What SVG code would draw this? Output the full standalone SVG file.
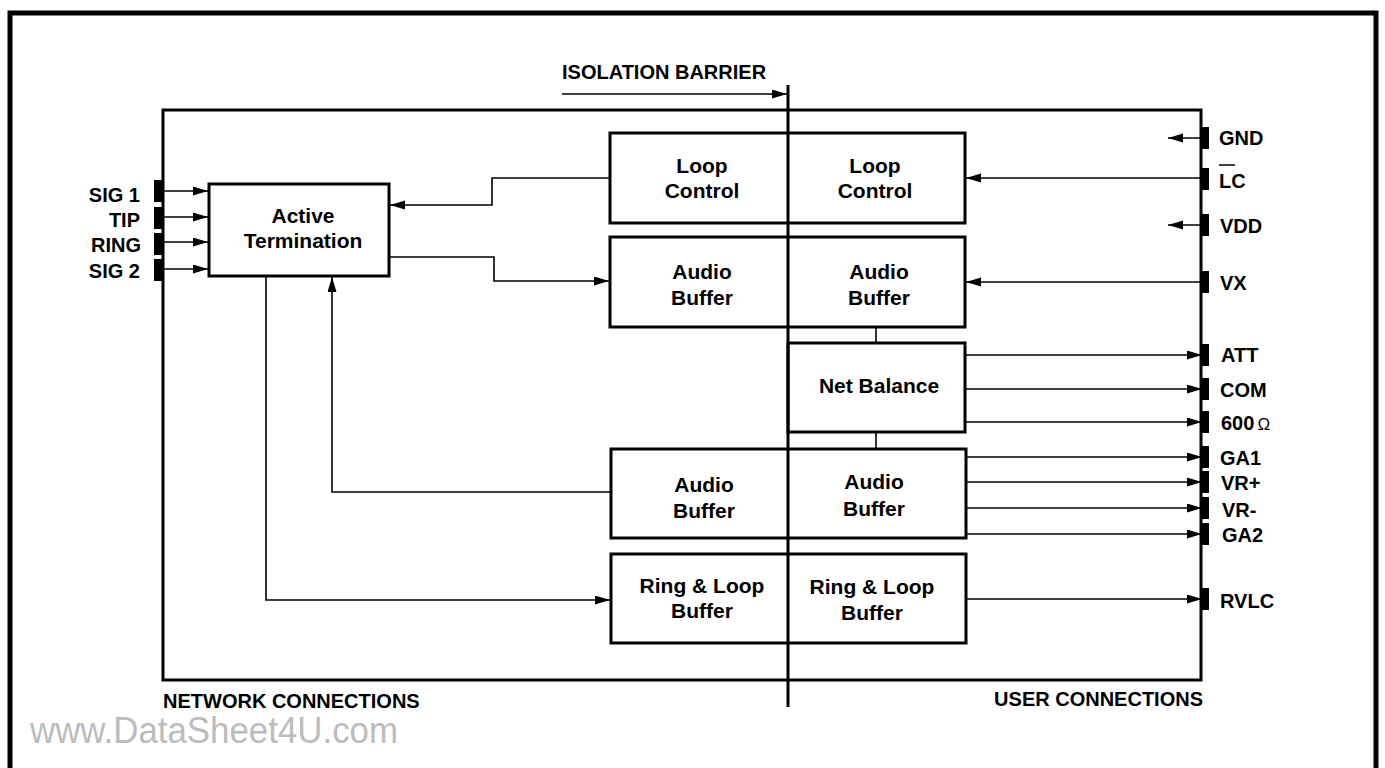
<svg xmlns="http://www.w3.org/2000/svg" width="1385" height="768" viewBox="0 0 1385 768">
<style>
.box{fill:#fff;stroke:#000;stroke-width:3}
.t{font-family:"Liberation Sans",Arial,sans-serif;font-weight:bold;font-size:21px;fill:#000;text-anchor:middle}
.lbl{font-family:"Liberation Sans",Arial,sans-serif;font-weight:bold;font-size:20px;fill:#000}
.r{text-anchor:end}
.pin{fill:#000}
.c{fill:none;stroke:#000;stroke-width:1.6}
</style>
<defs>
<marker id="ah" markerUnits="userSpaceOnUse" markerWidth="16" markerHeight="10" refX="15" refY="4.5" orient="auto">
<path d="M0,0 L15,4.5 L0,9 z" fill="#000"/>
</marker>
</defs>
<rect width="1385" height="768" fill="#fff"/>
<path d="M10,768 V13 H1376 V768" fill="none" stroke="#000" stroke-width="5"/>
<rect x="163" y="110" width="1038" height="570" fill="none" stroke="#000" stroke-width="3"/>

<g id="nodes">
<g id="active-termination">
<rect class="box" x="209" y="184" width="180" height="92"/>
<text class="t" x="303" y="223">Active</text>
<text class="t" x="303" y="248">Termination</text>
</g>
<g id="loop-control">
<rect class="box" x="610" y="133" width="355" height="90"/>
<text class="t" x="702" y="173">Loop</text>
<text class="t" x="702" y="198">Control</text>
<text class="t" x="875" y="173">Loop</text>
<text class="t" x="875" y="198">Control</text>
</g>
<g id="audio-buffer-tx">
<rect class="box" x="610" y="237" width="355" height="90"/>
<text class="t" x="702" y="279">Audio</text>
<text class="t" x="702" y="305">Buffer</text>
<text class="t" x="879" y="279">Audio</text>
<text class="t" x="879" y="305">Buffer</text>
</g>
<g id="net-balance">
<rect class="box" x="788" y="343" width="177" height="89"/>
<text class="t" x="879" y="393">Net Balance</text>
</g>
<g id="audio-buffer-rx">
<rect class="box" x="611" y="449" width="355" height="89"/>
<text class="t" x="704" y="492">Audio</text>
<text class="t" x="704" y="518">Buffer</text>
<text class="t" x="874" y="489">Audio</text>
<text class="t" x="874" y="516">Buffer</text>
</g>
<g id="ring-loop-buffer">
<rect class="box" x="611" y="554" width="355" height="89"/>
<text class="t" x="702" y="593">Ring &amp; Loop</text>
<text class="t" x="702" y="618">Buffer</text>
<text class="t" x="872" y="594">Ring &amp; Loop</text>
<text class="t" x="872" y="620">Buffer</text>
</g>
</g>

<g id="barrier">
<line x1="788" y1="85" x2="788" y2="707" stroke="#000" stroke-width="3"/>
<text class="lbl" x="562" y="79">ISOLATION BARRIER</text>
</g>

<g id="connectors">
<path class="c" d="M562,94 H787" marker-end="url(#ah)"/>
<path class="c" d="M610,178 H492 V205 H390" marker-end="url(#ah)"/>
<path class="c" d="M389,257 H494 V281 H609" marker-end="url(#ah)"/>
<path class="c" d="M610,492 H332 V277" marker-end="url(#ah)"/>
<path class="c" d="M266,276 V600 H610" marker-end="url(#ah)"/>
<path class="c" d="M163,191 H208" marker-end="url(#ah)"/>
<path class="c" d="M163,217 H208" marker-end="url(#ah)"/>
<path class="c" d="M163,242 H208" marker-end="url(#ah)"/>
<path class="c" d="M163,269 H208" marker-end="url(#ah)"/>
<path class="c" d="M876,327 V343"/>
<path class="c" d="M876,432 V449"/>
<path class="c" d="M1201,138 H1168" marker-end="url(#ah)"/>
<path class="c" d="M1201,178 H966" marker-end="url(#ah)"/>
<path class="c" d="M1201,225 H1168" marker-end="url(#ah)"/>
<path class="c" d="M1201,282 H966" marker-end="url(#ah)"/>
<path class="c" d="M965,355 H1202" marker-end="url(#ah)"/>
<path class="c" d="M965,389 H1202" marker-end="url(#ah)"/>
<path class="c" d="M965,422 H1202" marker-end="url(#ah)"/>
<path class="c" d="M966,457 H1202" marker-end="url(#ah)"/>
<path class="c" d="M966,482 H1202" marker-end="url(#ah)"/>
<path class="c" d="M966,508 H1202" marker-end="url(#ah)"/>
<path class="c" d="M966,534 H1202" marker-end="url(#ah)"/>
<path class="c" d="M966,599 H1202" marker-end="url(#ah)"/>
</g>

<g id="pins-left">
<rect class="pin" x="154" y="180" width="9" height="22"/>
<rect class="pin" x="154" y="207" width="9" height="22"/>
<rect class="pin" x="154" y="233" width="9" height="22"/>
<rect class="pin" x="154" y="259" width="9" height="22"/>
<text class="lbl r" x="140" y="202">SIG 1</text>
<text class="lbl r" x="140" y="227">TIP</text>
<text class="lbl r" x="141" y="252">RING</text>
<text class="lbl r" x="140" y="278">SIG 2</text>
</g>

<g id="pins-right">
<rect class="pin" x="1201" y="127" width="8" height="22"/>
<rect class="pin" x="1201" y="168" width="8" height="22"/>
<rect class="pin" x="1201" y="214" width="8" height="22"/>
<rect class="pin" x="1201" y="271" width="8" height="22"/>
<rect class="pin" x="1201" y="344" width="8" height="22"/>
<rect class="pin" x="1201" y="378" width="8" height="22"/>
<rect class="pin" x="1201" y="411" width="8" height="22"/>
<rect class="pin" x="1201" y="446" width="8" height="22"/>
<rect class="pin" x="1201" y="471" width="8" height="22"/>
<rect class="pin" x="1201" y="497" width="8" height="22"/>
<rect class="pin" x="1201" y="523" width="8" height="22"/>
<rect class="pin" x="1201" y="588" width="8" height="22"/>
<text class="lbl" x="1219" y="145">GND</text>
<text class="lbl" x="1219" y="188">LC</text>
<line x1="1219" y1="165" x2="1235" y2="165" stroke="#000" stroke-width="1.5"/>
<text class="lbl" x="1220" y="233">VDD</text>
<text class="lbl" x="1220" y="290">VX</text>
<text class="lbl" x="1221" y="362">ATT</text>
<text class="lbl" x="1220" y="397">COM</text>
<text class="lbl" x="1221" y="430">600<tspan font-size="17" font-weight="normal" dx="3">Ω</tspan></text>
<text class="lbl" x="1220" y="465">GA1</text>
<text class="lbl" x="1221" y="490">VR+</text>
<text class="lbl" x="1222" y="517">VR-</text>
<text class="lbl" x="1222" y="542">GA2</text>
<text class="lbl" x="1220" y="608">RVLC</text>
</g>

<g id="captions">
<text class="lbl" x="163" y="708">NETWORK CONNECTIONS</text>
<text class="lbl r" x="1203" y="706">USER CONNECTIONS</text>
<text x="30" y="743" font-family="Liberation Sans,Arial,sans-serif" font-size="37" fill="#bcbcbc" textLength="368" lengthAdjust="spacingAndGlyphs">www.DataSheet4U.com</text>
</g>
</svg>
